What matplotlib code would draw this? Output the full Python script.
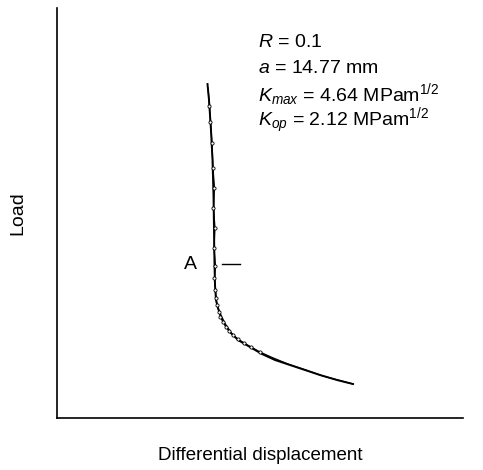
import numpy as np
import matplotlib
matplotlib.use("Agg")
import matplotlib.pyplot as plt

plt.rcParams['font.family'] = ['Liberation Sans', 'DejaVu Sans']
plt.rcParams['mathtext.fontset'] = 'custom'
plt.rcParams['mathtext.rm'] = 'Liberation Sans'
plt.rcParams['mathtext.it'] = 'Liberation Sans:italic'

# unloading trace (differential displacement, load) - arbitrary units
disp_unload = [150.5, 152, 154, 155.5, 156.5, 157, 157.5, 158, 159, 161, 164,
               168, 174, 181, 193, 205, 218, 233, 248, 263, 280, 296]
load_unload = [334, 318, 288, 258, 223, 188, 153, 133, 118, 110, 102,
               94, 85, 78, 71, 64, 58, 53, 48, 43, 38, 34]

# loading trace, nearly on top of the unloading one
disp_load = [151, 152.5, 153.5, 155, 156, 157.5, 156.5, 158, 157, 158.5, 157.5,
             158.5, 159, 160, 162, 163.5, 166, 169, 172, 176, 181, 187, 194,
             203, 214, 231, 249, 266, 296]
load_load = [330, 312, 296, 275, 250, 230, 210, 190, 170, 152, 140,
             128, 120, 113, 106, 101, 96, 91, 87, 83, 79, 75, 71,
             66, 61, 54, 48, 42, 34]

fig = plt.figure(figsize=(4.83, 4.70), dpi=100)
ax = fig.add_axes([0.118, 0.1106, 0.8406, 0.8723])

ax.plot(disp_unload, load_unload, color="black", linewidth=1.4)
ax.plot(disp_load, load_load, color="black", linewidth=0.9,
        marker="o", markersize=2.3, markerfacecolor="white",
        markeredgewidth=0.6, markevery=list(range(1, 24)))

ax.set_xlim(0, 406)
ax.set_ylim(0, 410)
ax.set_xticks([])
ax.set_yticks([])
ax.spines["top"].set_visible(False)
ax.spines["right"].set_visible(False)
ax.spines["left"].set_linewidth(1.2)
ax.spines["bottom"].set_linewidth(1.2)

# point A marker
ax.text(133, 154, "A", fontsize=14, ha="center", va="center")
ax.plot([165, 183], [154, 154], color="black", linewidth=1.0)

fs = 14
ax.text(201, 376, "$R$ = 0.1", fontsize=fs, va="center")
ax.text(201, 350, "$a$ = 14.77 mm", fontsize=fs, va="center")
ax.text(201, 323, "$K_{max}$ = 4.64 MPam$^{1/2}$", fontsize=fs, va="center")
ax.text(201, 297, "$K_{op}$ = 2.12 MPam$^{1/2}$", fontsize=fs, va="center")

ax.set_xlabel("Differential displacement", fontsize=13.5, labelpad=21)
ax.set_ylabel("Load", fontsize=14, labelpad=22)

fig.savefig("out.png", dpi=100)
